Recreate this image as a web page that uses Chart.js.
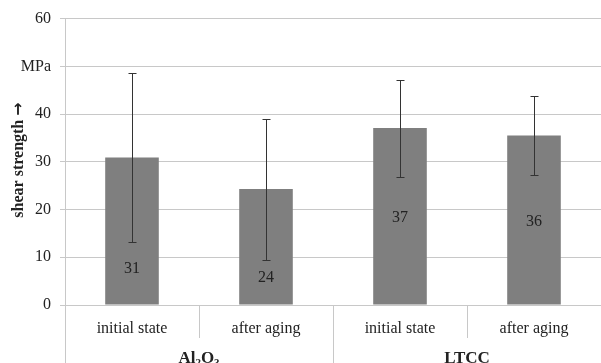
<!DOCTYPE html>
<html>
<head>
<meta charset="utf-8">
<script src="https://cdn.jsdelivr.net/npm/chart.js@4.4.1/dist/chart.umd.min.js"></script>
<style>
  body { margin: 0; background: #fff; }
  #wrap { width: 601px; height: 363px; }
</style>
</head>
<body>
<div id="wrap"><canvas id="chart" width="601" height="363"></canvas></div>
<script>
// categorias y valores
var categories = ['initial state', 'after aging', 'initial state', 'after aging'];
var groups = ['Al2O3', 'LTCC'];
var meanValues = [30.9, 24.3, 37.1, 35.5];
var errLow = [13.3, 9.4, 26.8, 27.2];
var errHigh = [48.5, 38.9, 47.2, 43.8];
var yTicks = [0, 10, 20, 30, 40, 50, 60];

var serif = '"Liberation Serif", "DejaVu Serif", serif';
var lineGray = '#c8c8c8';
var textColor = '#222';

// ******* PLUGIN: barras de error, etiquetas, eje x, titulo **********
var extras = {
    id: 'extras',
    afterDraw: function (chart, args, opts) {
        var ctx = chart.ctx;
        var x = chart.scales.x;
        var y = chart.scales.y;
        var area = chart.chartArea;
        var H = chart.height;

        ctx.save();

        // barras de error
        ctx.strokeStyle = '#333';
        ctx.lineWidth = 1;
        for (var i = 0; i < meanValues.length; i++) {
            var cx = Math.round(x.getPixelForValue(i)) + 0.5;
            var yt = Math.round(y.getPixelForValue(errHigh[i])) + 0.5;
            var yb = Math.round(y.getPixelForValue(errLow[i])) + 0.5;
            ctx.beginPath();
            ctx.moveTo(cx, yt); ctx.lineTo(cx, yb);
            ctx.moveTo(cx - 4, yt); ctx.lineTo(cx + 4, yt);
            ctx.moveTo(cx - 4, yb); ctx.lineTo(cx + 4, yb);
            ctx.stroke();
        }

        // etiquetas de valor
        ctx.fillStyle = textColor;
        ctx.font = '16px ' + serif;
        ctx.textAlign = 'center';
        ctx.textBaseline = 'middle';
        for (var j = 0; j < meanValues.length; j++) {
            ctx.fillText(String(Math.round(meanValues[j])), x.getPixelForValue(j), y.getPixelForValue(opts.labelAt[j]));
        }

        // eje de categorias
        var step = x.getPixelForValue(1) - x.getPixelForValue(0);
        var left = x.getPixelForValue(0) - step / 2;
        ctx.strokeStyle = lineGray;
        ctx.beginPath();
        ctx.moveTo(Math.round(left) + 0.5, area.top);
        ctx.lineTo(Math.round(left) + 0.5, H);
        for (var k = 1; k < categories.length; k++) {
            var sx = Math.round(left + step * k) + 0.5;
            ctx.moveTo(sx, area.bottom);
            ctx.lineTo(sx, k % 2 === 0 ? H : area.bottom + 33);
        }
        ctx.stroke();

        ctx.fillStyle = textColor;
        ctx.font = '16px ' + serif;
        for (var m = 0; m < categories.length; m++) {
            ctx.fillText(categories[m], x.getPixelForValue(m), area.bottom + 24);
        }

        // grupos
        var gy = area.bottom + 54;
        var g1 = (x.getPixelForValue(0) + x.getPixelForValue(1)) / 2;
        var g2 = (x.getPixelForValue(2) + x.getPixelForValue(3)) / 2;
        // Al2O3 con subindices
        var big = 'bold 17px ' + serif, small = 'bold 11px ' + serif;
        var parts = [['Al', big, 0], ['2', small, 4], ['O', big, 0], ['3', small, 4]];
        var total = 0;
        parts.forEach(function (p) { ctx.font = p[1]; total += ctx.measureText(p[0]).width; });
        var px = g1 - total / 2;
        ctx.textAlign = 'left';
        parts.forEach(function (p) {
            ctx.font = p[1];
            ctx.fillText(p[0], px, gy + p[2]);
            px += ctx.measureText(p[0]).width;
        });
        ctx.textAlign = 'center';
        ctx.font = big;
        ctx.fillText(groups[1], g2, gy);

        // titulo eje y
        ctx.translate(19, 160);
        ctx.rotate(-Math.PI / 2);
        var tFont = 'bold 16px ' + serif;
        var aFont = 'bold 16px "DejaVu Sans", sans-serif';
        ctx.font = tFont;
        var w1 = ctx.measureText('shear strength ').width;
        ctx.font = aFont;
        var w2 = ctx.measureText('\u2192').width;
        ctx.textAlign = 'left';
        ctx.font = tFont;
        ctx.fillText('shear strength ', -(w1 + w2) / 2, 0);
        ctx.font = aFont;
        ctx.fillText('\u2192', -(w1 + w2) / 2 + w1, 0);

        ctx.restore();
    }
};

var contexto = document.getElementById('chart').getContext('2d');
var chartShear = new Chart(contexto, {
    type: 'bar',
    data: {
        labels: categories,
        datasets: [{
            data: meanValues,
            backgroundColor: '#7f7f7f',
            borderWidth: 0,
            barPercentage: 0.4,
            categoryPercentage: 1
        }]
    },
    options: {
        responsive: false,
        animation: false,
        layout: { padding: { top: 16, bottom: 58, left: 0, right: 0 } },
        plugins: {
            legend: { display: false },
            tooltip: { enabled: false },
            extras: { labelAt: [7.5, 5.7, 18.3, 17.5] }
        },
        scales: {
            x: { display: false },
            y: {
                min: 0,
                max: 60,
                afterBuildTicks: function (s) { s.ticks = yTicks.map(function (v) { return { value: v }; }); },
                afterFit: function (s) { s.width = 65; },
                ticks: {
                    padding: 9,
                    color: textColor,
                    font: { family: serif, size: 16 },
                    callback: function (v) { return v === 50 ? 'MPa' : v; }
                },
                grid: { color: lineGray, tickLength: 5, lineWidth: 1 },
                border: { display: false }
            }
        }
    },
    plugins: [extras]
});
</script>
</body>
</html>
